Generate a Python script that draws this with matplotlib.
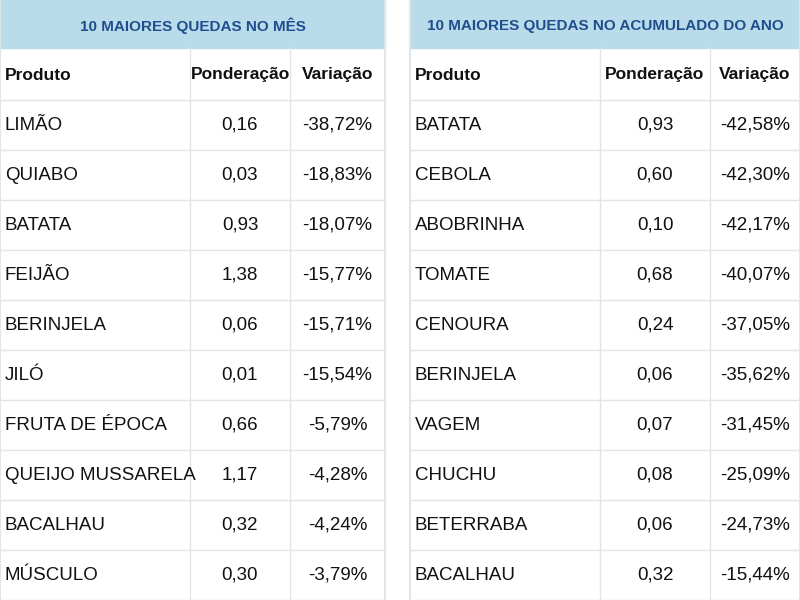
import matplotlib
matplotlib.use("Agg")
import matplotlib.pyplot as plt
from matplotlib.patches import Rectangle

title_left = "10 MAIORES QUEDAS NO MÊS"
title_right = "10 MAIORES QUEDAS NO ACUMULADO DO ANO"
col_headers = ["Produto", "Ponderação", "Variação"]
left_products = ["LIMÃO", "QUIABO", "BATATA", "FEIJÃO", "BERINJELA", "JILÓ",
                 "FRUTA DE ÉPOCA", "QUEIJO MUSSARELA", "BACALHAU", "MÚSCULO"]
left_weights = ["0,16", "0,03", "0,93", "1,38", "0,06", "0,01", "0,66", "1,17", "0,32", "0,30"]
left_changes = ["-38,72%", "-18,83%", "-18,07%", "-15,77%", "-15,71%", "-15,54%",
                "-5,79%", "-4,28%", "-4,24%", "-3,79%"]
right_products = ["BATATA", "CEBOLA", "ABOBRINHA", "TOMATE", "CENOURA", "BERINJELA",
                  "VAGEM", "CHUCHU", "BETERRABA", "BACALHAU"]
right_weights = ["0,93", "0,60", "0,10", "0,68", "0,24", "0,06", "0,07", "0,08", "0,06", "0,32"]
right_changes = ["-42,58%", "-42,30%", "-42,17%", "-40,07%", "-37,05%", "-35,62%",
                 "-31,45%", "-25,09%", "-24,73%", "-15,44%"]

fam = ["Liberation Sans", "DejaVu Sans"]
fig = plt.figure(figsize=(8, 6), dpi=100)
ax = fig.add_axes([0, 0, 1, 1])
ax.set_xlim(0, 800); ax.set_ylim(600, 0); ax.axis("off")

def table(x0, x1, d1, d2, title, prods, wts, chg):
    ax.add_patch(Rectangle((x0, 0), x1 - x0, 48, color="#b9dbea", zorder=1))
    ax.text((x0 + x1) / 2, 26, title, ha="center", va="center", color="#1f4e8c",
            fontsize=11, fontweight="bold", family=fam)
    for xd in (d1, d2):
        ax.plot([xd, xd], [48, 600], color="#e4e4e4", lw=1)
    ax.plot([x0, x0], [0, 600], color="#dde6ea", lw=1.5)
    ax.plot([x1, x1], [0, 600], color="#dde6ea", lw=1.5)
    rows = [col_headers] + [list(r) for r in zip(prods, wts, chg)]
    for i, r in enumerate(rows):
        yc = 75 + 50 * i
        ax.plot([x0, x1], [yc + 25, yc + 25], color="#e4e4e4", lw=1)
        wgt = "bold" if i == 0 else "normal"
        fs = 12.5 if i == 0 else 13.5
        ax.text(x0 + 5, yc, r[0], ha="left", va="center", fontsize=fs, fontweight=wgt,
                family=fam, color="#111111")
        ax.text((d1 + d2) / 2, yc, r[1], ha="center", va="center", fontsize=fs,
                fontweight=wgt, family=fam, color="#111111")
        ax.text((d2 + x1) / 2, yc, r[2], ha="center", va="center", fontsize=fs,
                fontweight=wgt, family=fam, color="#111111")

table(0, 385, 190, 290, title_left, left_products, left_weights, left_changes)
table(410, 800, 600, 710, title_right, right_products, right_weights, right_changes)
fig.savefig("out.png", dpi=100)
